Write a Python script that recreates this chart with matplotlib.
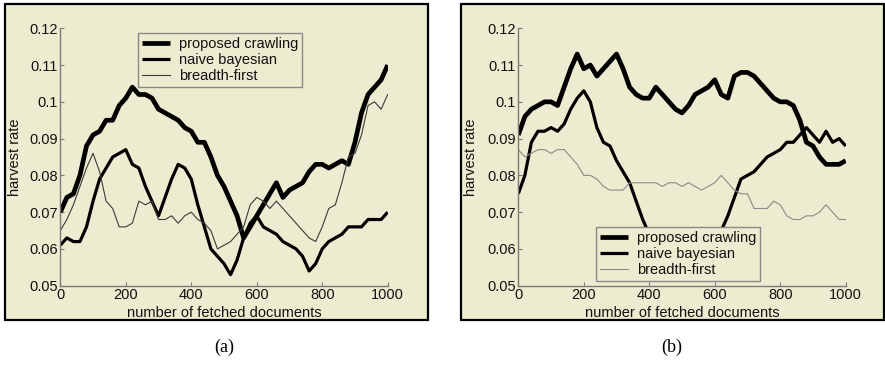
import matplotlib
matplotlib.use("Agg")
import matplotlib.pyplot as plt
from matplotlib.patches import Rectangle

# ---------------- data ----------------
docs = list(range(0, 1001, 20))

# panel (a)
a_proposed = [0.070, 0.074, 0.075, 0.080, 0.088, 0.091, 0.092, 0.095, 0.095, 0.099,
              0.101, 0.104, 0.102, 0.102, 0.101, 0.098, 0.097, 0.096, 0.095, 0.093,
              0.092, 0.089, 0.089, 0.085, 0.080, 0.077, 0.073, 0.069, 0.063, 0.066,
              0.069, 0.072, 0.075, 0.078, 0.074, 0.076, 0.077, 0.078, 0.081, 0.083,
              0.083, 0.082, 0.083, 0.084, 0.083, 0.089, 0.097, 0.102, 0.104, 0.106,
              0.110]
a_naive = [0.061, 0.063, 0.062, 0.062, 0.066, 0.073, 0.079, 0.082, 0.085, 0.086,
           0.087, 0.083, 0.082, 0.077, 0.073, 0.069, 0.074, 0.079, 0.083, 0.082,
           0.079, 0.072, 0.066, 0.060, 0.058, 0.056, 0.053, 0.057, 0.063, 0.067,
           0.069, 0.066, 0.065, 0.064, 0.062, 0.061, 0.060, 0.058, 0.054, 0.056,
           0.060, 0.062, 0.063, 0.064, 0.066, 0.066, 0.066, 0.068, 0.068, 0.068,
           0.070]
a_breadth = [0.065, 0.068, 0.072, 0.077, 0.082, 0.086, 0.081, 0.073, 0.071, 0.066,
             0.066, 0.067, 0.073, 0.072, 0.073, 0.068, 0.068, 0.069, 0.067, 0.069,
             0.070, 0.068, 0.067, 0.065, 0.060, 0.061, 0.062, 0.064, 0.066, 0.072,
             0.074, 0.073, 0.071, 0.073, 0.071, 0.069, 0.067, 0.065, 0.063, 0.062,
             0.066, 0.071, 0.072, 0.078, 0.085, 0.086, 0.091, 0.099, 0.100, 0.098,
             0.102]

# panel (b)
b_proposed = [0.091, 0.096, 0.098, 0.099, 0.100, 0.100, 0.099, 0.104, 0.109, 0.113,
              0.109, 0.110, 0.107, 0.109, 0.111, 0.113, 0.109, 0.104, 0.102, 0.101,
              0.101, 0.104, 0.102, 0.100, 0.098, 0.097, 0.099, 0.102, 0.103, 0.104,
              0.106, 0.102, 0.101, 0.107, 0.108, 0.108, 0.107, 0.105, 0.103, 0.101,
              0.100, 0.100, 0.099, 0.095, 0.089, 0.088, 0.085, 0.083, 0.083, 0.083,
              0.084]
b_naive = [0.075, 0.080, 0.089, 0.092, 0.092, 0.093, 0.092, 0.094, 0.098, 0.101,
           0.103, 0.100, 0.093, 0.089, 0.088, 0.084, 0.081, 0.078, 0.073, 0.068,
           0.064, 0.060, 0.057, 0.055, 0.054, 0.054, 0.055, 0.056, 0.058, 0.060,
           0.063, 0.065, 0.069, 0.074, 0.079, 0.080, 0.081, 0.083, 0.085, 0.086,
           0.087, 0.089, 0.089, 0.091, 0.093, 0.091, 0.089, 0.092, 0.089, 0.090,
           0.088]
b_breadth = [0.087, 0.085, 0.086, 0.087, 0.087, 0.086, 0.087, 0.087, 0.085, 0.083,
             0.080, 0.080, 0.079, 0.077, 0.076, 0.076, 0.076, 0.078, 0.078, 0.078,
             0.078, 0.078, 0.077, 0.078, 0.078, 0.077, 0.078, 0.077, 0.076, 0.077,
             0.078, 0.080, 0.078, 0.076, 0.075, 0.075, 0.071, 0.071, 0.071, 0.073,
             0.072, 0.069, 0.068, 0.068, 0.069, 0.069, 0.070, 0.072, 0.070, 0.068,
             0.068]

labels = ["proposed crawling", "naive bayesian", "breadth-first"]
x_ticks = [0, 200, 400, 600, 800, 1000]
x_ticklabels = ["0", "200", "400", "600", "800", "1000"]
y_ticks = [0.05, 0.06, 0.07, 0.08, 0.09, 0.10, 0.11, 0.12]
y_ticklabels = ["0.05", "0.06", "0.07", "0.08", "0.09", "0.1", "0.11", "0.12"]
captions = ["(a)", "(b)"]

# ---------------- style ----------------
W, H = 885, 367
BG = "#EEECD0"
SPINE = "#7a7a7a"
TXT = "#111111"
FS = 10.5
plt.rcParams["font.family"] = ["Liberation Sans", "DejaVu Sans"]

fig = plt.figure(figsize=(W / 100, H / 100), dpi=100)
fig.patch.set_facecolor("white")


def px_rect(x0, y0, x1, y1):
    return (x0 / W, 1 - y1 / H, (x1 - x0) / W, (y1 - y0) / H)


frames = [(5, 4, 428, 320), (461, 4, 884, 320)]
axes_px = [(60.3, 28.3, 387.7, 285.7), (518.3, 28.3, 845.7, 285.7)]
caption_px = [(224, 347), (672, 347)]
legend_anchor = [(0.237, 0.982), (0.237, 0.228)]
breadth_colors = ["#3a3a3a", "#8a8a8a"]
series = [(a_proposed, a_naive, a_breadth), (b_proposed, b_naive, b_breadth)]
ylabel_x = [-0.117, -0.123]

for i in range(2):
    fx, fy, fw, fh = px_rect(*frames[i])
    fig.patches.append(Rectangle((fx, fy), fw, fh, transform=fig.transFigure,
                                 facecolor=BG, edgecolor="none", zorder=-10))
    ax = fig.add_axes(px_rect(*axes_px[i]))
    ax.set_facecolor("none")
    prop, naive, breadth = series[i]
    ax.plot(docs, prop, color="black", lw=3.4, label=labels[0],
            solid_joinstyle="round", solid_capstyle="butt")
    ax.plot(docs, naive, color="black", lw=2.3, label=labels[1],
            solid_joinstyle="round", solid_capstyle="butt")
    ax.plot(docs, breadth, color=breadth_colors[i], lw=0.8, label=labels[2])
    ax.set_xlim(0, 1000)
    ax.set_ylim(0.05, 0.12)
    ax.set_xticks(x_ticks)
    ax.set_xticklabels(x_ticklabels)
    ax.set_yticks(y_ticks)
    ax.set_yticklabels(y_ticklabels)
    for s in ["top", "right"]:
        ax.spines[s].set_visible(False)
    for s in ["left", "bottom"]:
        ax.spines[s].set_color(SPINE)
        ax.spines[s].set_linewidth(1.0)
    ax.tick_params(direction="in", length=3, width=0.8, color=SPINE,
                   labelsize=FS, labelcolor=TXT, pad=2)
    ax.set_xlabel("number of fetched documents", fontsize=FS, color=TXT)
    ax.xaxis.set_label_coords(0.5, -0.080)
    ax.set_ylabel("harvest rate", fontsize=FS, color=TXT)
    ax.yaxis.set_label_coords(ylabel_x[i], 0.5)
    leg = ax.legend(loc="upper left", bbox_to_anchor=legend_anchor[i],
                    fontsize=FS, fancybox=False, framealpha=1, facecolor=BG,
                    edgecolor="#888888", handlelength=1.9, handletextpad=0.6,
                    labelspacing=0.12, borderpad=0.3, borderaxespad=0)
    leg.get_frame().set_linewidth(1.0)
    for t in leg.get_texts():
        t.set_color(TXT)

    # black frame border and cover below
    fig.patches.append(Rectangle((fx, fy), fw, fh, transform=fig.transFigure,
                                 facecolor="none", edgecolor="black", lw=1.6, zorder=10))
    cx, cy, cw, ch = px_rect(frames[i][0] - 2, frames[i][3] + 1, frames[i][2] + 2, frames[i][3] + 14)
    fig.patches.append(Rectangle((cx, cy), cw, ch, transform=fig.transFigure,
                                 facecolor="white", edgecolor="none", zorder=9))
    fig.text(caption_px[i][0] / W, 1 - caption_px[i][1] / H, captions[i],
             ha="center", va="center", fontsize=13, family="Liberation Serif",
             color="black", zorder=11)

fig.savefig("out.png", dpi=100)
